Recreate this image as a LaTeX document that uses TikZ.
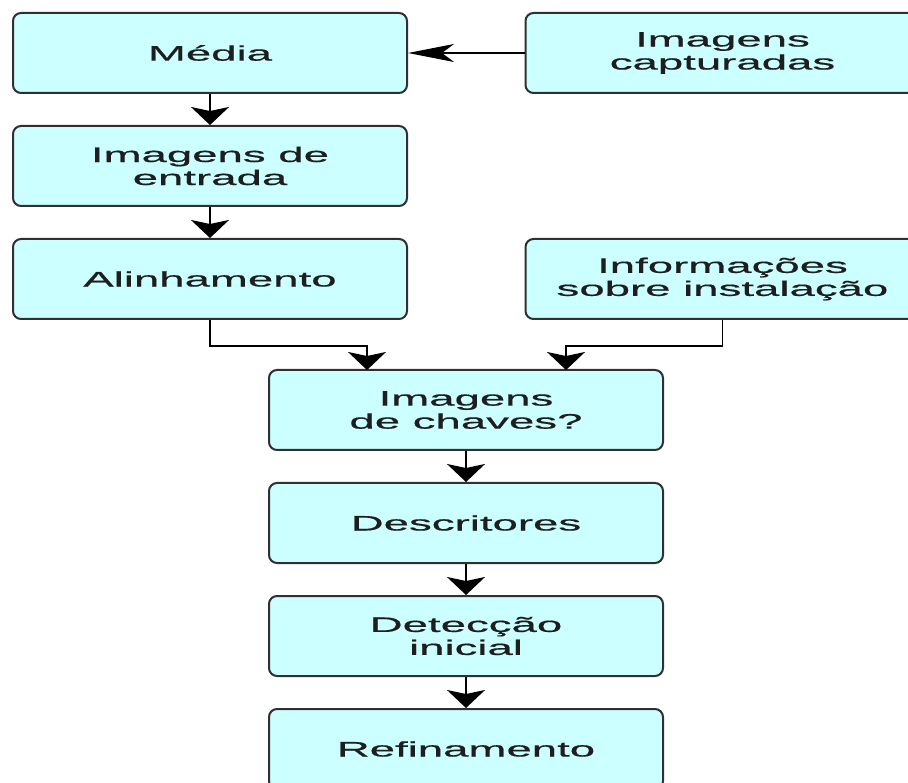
\documentclass[tikz,border=0pt]{standalone}
\usepackage{fontspec}
\setmainfont[FakeStretch=2.17,FakeBold=0.6]{Liberation Sans}
\usetikzlibrary{arrows.meta}
\definecolor{boxfill}{HTML}{CCFFFF}
\definecolor{boxline}{HTML}{303030}
\definecolor{txt}{HTML}{1E1E1E}
\begin{document}
\begin{tikzpicture}[x=1pt,y=1pt,
  stepbox/.style={draw=boxline, line width=2pt, fill=boxfill, rounded corners=8pt,
    minimum width=394pt, minimum height=80pt, inner sep=0pt, align=center,
    text=txt, font=\fontsize{21}{23}\selectfont},
  varr/.style={line width=1.8pt, draw=black, -{Stealth[length=18pt, width=38pt, inset=4pt]}},
  harr/.style={line width=1.3pt, draw=black, -{Stealth[length=46pt, width=18pt, inset=12pt]}}]
\clip (0,0) rectangle (908,-783);
\fill[white] (0,0) rectangle (908,-783);
\node[stepbox] (media)   at (210,-53)    {Média};
\node[stepbox] (capt)    at (722.5,-53)  {Imagens\\capturadas};
\node[stepbox] (entrada) at (210,-166)   {Imagens de\\entrada};
\node[stepbox] (alinh)   at (210,-279)   {Alinhamento};
\node[stepbox] (info)    at (722.5,-279) {Informações\\sobre instalação};
\node[stepbox] (chaves)  at (466,-410)   {Imagens\\de chaves?};
\node[stepbox] (desc)    at (466,-523)   {Descritores};
\node[stepbox] (det)     at (466,-636)   {Detecção\\inicial};
\node[stepbox] (ref)     at (466,-749)   {Refinamento};
\coordinate (cL) at (367,-370);
\coordinate (cR) at (566,-370);
\draw[harr] (capt.west) -- (media.east);
\draw[varr] (media.south) -- (entrada.north);
\draw[varr] (entrada.south) -- (alinh.north);
\draw[varr] (alinh.south) -- ++(0,-26) -| (cL);
\draw[varr] (info.south) -- ++(0,-26) -| (cR);
\draw[varr] (chaves.south) -- (desc.north);
\draw[varr] (desc.south) -- (det.north);
\draw[varr] (det.south) -- (ref.north);
\end{tikzpicture}
\end{document}
